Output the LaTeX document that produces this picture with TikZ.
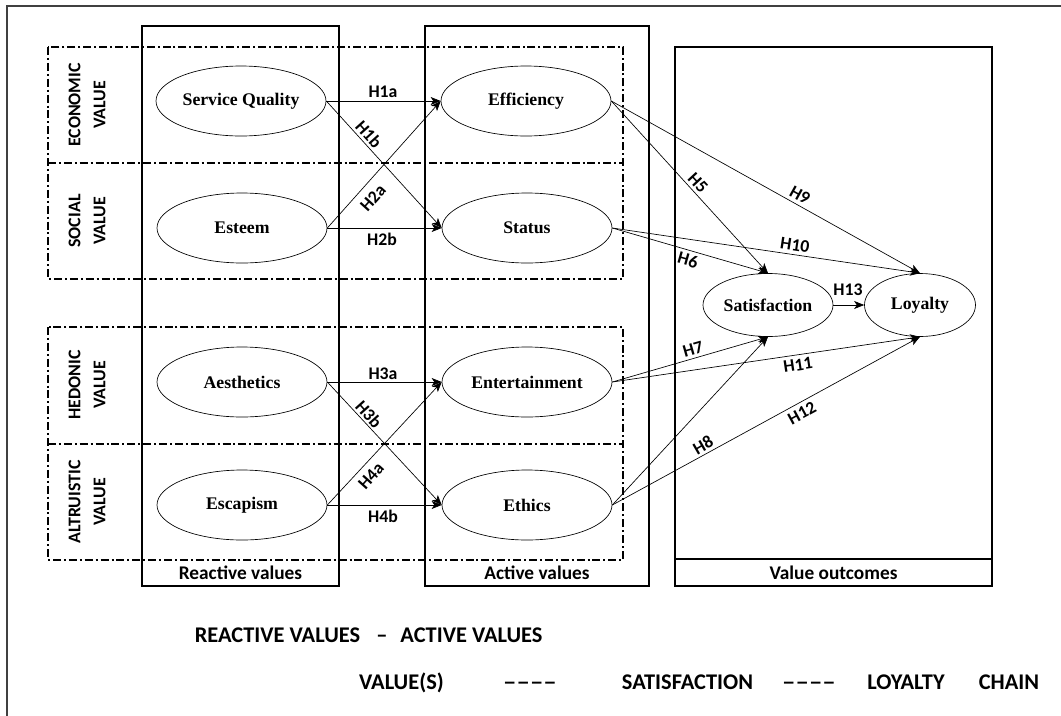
\documentclass[tikz,border=0pt]{standalone}
\usepackage{fontspec}
\setmainfont{Carlito}
\newfontfamily\tnr{Liberation Serif}
\usetikzlibrary{shapes.geometric,arrows.meta}
\begin{document}
\begin{tikzpicture}[x=0.75pt,y=-0.75pt,
 boxline/.style={line width=1.5pt},
 ddline/.style={line width=1.3pt, dash pattern=on 6pt off 2.2pt on 1.5pt off 2.2pt},
 ell/.style={ellipse, draw, fill=white, line width=0.5pt, minimum width=127.5pt, minimum height=52.5pt, inner sep=0pt, font=\tnr\bfseries\fontsize{13.3}{15}\selectfont},
 smallell/.style={ell, minimum width=97.5pt, minimum height=47.25pt},
 arr/.style={line width=0.5pt, -{Stealth[length=7.5pt,width=6pt,inset=2pt]}},
 hlab/.style={font=\bfseries\fontsize{13.3}{15}\selectfont, inner sep=0pt},
 boxlab/.style={font=\bfseries\fontsize{14.5}{16}\selectfont, inner sep=0pt},
 sidelab/.style={font=\bfseries\fontsize{13.4}{18.75}\selectfont, align=center, rotate=90, inner sep=0pt},
 botlab/.style={font=\bfseries\fontsize{16.8}{20}\selectfont, inner sep=0pt, anchor=base}
]
\useasboundingbox (0,0) rectangle (1061,715);
\fill[white] (0,0) rectangle (1061,715);
% outer frame
\draw[black!75, line width=1pt] (7,720) -- (7,6) -- (1066,6);
% solid boxes
\draw[boxline] (142,26) rectangle (339,586);
\draw[boxline] (425,26) rectangle (649,586);
\draw[boxline] (675,47) rectangle (992,586);
\draw[boxline] (675,559) -- (992,559);
% dash-dotted groups
\draw[ddline] (48,47) rectangle (623,279);
\draw[ddline] (48,163) -- (623,163);
\draw[ddline] (48,327) rectangle (623,560);
\draw[ddline] (48,444) -- (623,444);
% side labels
\node[sidelab] (l1) at (87,105) {ECONOMIC\\VALUE};
\node[sidelab] (l2) at (87,221) {SOCIAL\\VALUE};
\node[sidelab] (l3) at (87,385) {HEDONIC\\VALUE};
\node[sidelab] (l4) at (87,502) {ALTRUISTIC\\VALUE};
% box labels
\node[boxlab] (rv) at (240.5,573) {Reactive values};
\node[boxlab] (av) at (537,573) {Active values};
\node[boxlab] (vo) at (833.5,573) {Value outcomes};
% ellipses
\node[ell] (sq) at (241,101) {Service Quality};
\node[ell] (est) at (242,228) {Esteem};
\node[ell] (aes) at (242,382) {Aesthetics};
\node[ell] (esc) at (242,505) {Escapism};
\node[ell] (eff) at (526,101) {Efficiency};
\node[ell] (sta) at (527,228) {Status};
\node[ell] (ent) at (527,382) {Entertainment};
\node[ell] (eth) at (527,505) {Ethics};
\node[smallell] (sat) at (768,305) {Satisfaction};
\node[smallell, minimum width=83.25pt] (loy) at (920,305) {Loyalty};
% reactive -> active
\draw[arr] (sq.east) -- (eff.west);
\draw[arr] (sq.east) -- (sta.west);
\draw[arr] (est.east) -- (eff.west);
\draw[arr] (est.east) -- (sta.west);
\draw[arr] (aes.east) -- (ent.west);
\draw[arr] (aes.east) -- (eth.west);
\draw[arr] (esc.east) -- (ent.west);
\draw[arr] (esc.east) -- (eth.west);
% active -> outcomes
\draw[arr] (eff.east) -- (sat.north);
\draw[arr] (eff.east) -- (loy.north);
\draw[arr] (sta.east) -- (sat.north);
\draw[arr] (sta.east) -- (loy.north);
\draw[arr] (ent.east) -- (sat.south);
\draw[arr] (ent.east) -- (loy.south);
\draw[arr] (eth.east) -- (sat.south);
\draw[arr] (eth.east) -- (loy.south);
\draw[arr] (sat.east) -- (loy.west);
% hypothesis labels
\node[hlab] (h1a) at (383,92) {H1a};
\node[hlab] (h2b) at (382,239) {H2b};
\node[hlab, rotate=-48] (h1b) at (369,134) {H1b};
\node[hlab, rotate=48] (h2a) at (373,198) {H2a};
\node[hlab] (h3a) at (383,374) {H3a};
\node[hlab] (h4b) at (383,516) {H4b};
\node[hlab, rotate=-48] (h3b) at (369,414) {H3b};
\node[hlab, rotate=48] (h4a) at (371,476) {H4a};
\node[hlab, rotate=-47] (h5) at (698,183) {H5};
\node[hlab, rotate=-29] (h9) at (800,195) {H9};
\node[hlab, rotate=-8.5] (h10) at (795,245) {H10};
\node[hlab, rotate=-16] (h6) at (688,260) {H6};
\node[hlab] (h13) at (848,290) {H13};
\node[hlab, rotate=16] (h7) at (693,349) {H7};
\node[hlab, rotate=8.5] (h11) at (798,365) {H11};
\node[hlab, rotate=28.5] (h12) at (802,413) {H12};
\node[hlab, rotate=30] (h8) at (703,445) {H8};
% bottom text
\node[botlab] (b1) at (277.5,642) {REACTIVE VALUES};
\node[botlab] (b2) at (382,642) {–};
\node[botlab] (b3) at (471.5,642) {ACTIVE VALUES};
\node[botlab] (c1) at (401.5,689) {VALUE(S)};
\node[botlab] (c2) at (530,689) {\scalebox{1.2}[1]{––––}};
\node[botlab] (c3) at (687.5,689) {SATISFACTION};
\node[botlab] (c4) at (809,689) {\scalebox{1.2}[1]{––––}};
\node[botlab] (c5) at (906,689) {LOYALTY};
\node[botlab] (c6) at (1009,689) {CHAIN};
\end{tikzpicture}
\end{document}
